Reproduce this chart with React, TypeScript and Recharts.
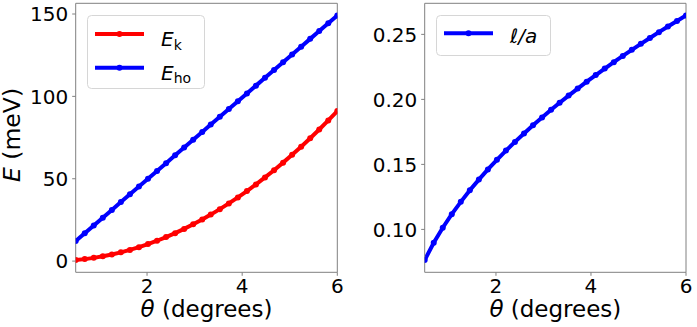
import React from 'react';
import { LineChart, Line, XAxis, YAxis, Legend, ReferenceLine } from 'recharts';

const theta = [0.5, 0.69, 0.88, 1.07, 1.26, 1.45, 1.64, 1.83, 2.02, 2.21, 2.4, 2.59, 2.78, 2.97, 3.16, 3.34, 3.53, 3.72, 3.91, 4.1, 4.29, 4.48, 4.67, 4.86, 5.05, 5.24, 5.43, 5.62, 5.81, 6.0];
const eK = [0.63, 1.2, 1.96, 2.9, 4.02, 5.32, 6.8, 8.47, 10.32, 12.36, 14.57, 16.97, 19.55, 22.32, 25.26, 28.22, 31.53, 35.01, 38.68, 42.53, 46.56, 50.78, 55.18, 59.76, 64.52, 69.47, 74.6, 79.91, 85.4, 91.08];
const eHo = [12.15, 16.88, 21.61, 26.34, 31.07, 35.81, 40.54, 45.27, 50.0, 54.73, 59.46, 64.19, 68.92, 73.65, 78.38, 82.87, 87.6, 92.33, 97.06, 101.79, 106.52, 111.25, 115.98, 120.71, 125.45, 130.18, 134.91, 139.64, 144.37, 149.1];
const ellA = [0.0764, 0.0897, 0.1013, 0.1117, 0.1212, 0.1301, 0.1383, 0.1461, 0.1535, 0.1606, 0.1673, 0.1738, 0.1801, 0.1861, 0.192, 0.1974, 0.2029, 0.2083, 0.2136, 0.2187, 0.2237, 0.2286, 0.2334, 0.2381, 0.2427, 0.2472, 0.2517, 0.256, 0.2603, 0.2645];

const xTicks = [2, 4, 6];
const eTicks = [0, 50, 100, 150];
const lTicks = [0.1, 0.15, 0.2, 0.25];

const leftData = theta.map((t, i) => ({ theta: t, ek: eK[i], eho: eHo[i] }));
const rightData = theta.map((t, i) => ({ theta: t, la: ellA[i] }));

const FONT = 'DejaVu Sans';
const SPINE = '#808080';

function XTick(props: any) {
  const { x, y, payload } = props;
  return (
    <text x={x} y={y + 11.5} textAnchor="middle" fontFamily={FONT} fontSize={20} fill="#000">
      {String(payload.value)}
    </text>
  );
}

function makeYTick(fmt: (v: number) => string) {
  return function YTick(props: any) {
    const { x, y, payload } = props;
    return (
      <text x={x} y={y + 7.2} textAnchor="end" fontFamily={FONT} fontSize={20} fill="#000">
        {fmt(payload.value)}
      </text>
    );
  };
}

const ETick = makeYTick((v) => String(v));
const LTick = makeYTick((v) => v.toFixed(2));

function XLabel(props: any) {
  const vb = props.viewBox || {};
  const cx = vb.x + vb.width / 2;
  return (
    <text x={cx} y={316.5} textAnchor="middle" fontFamily={FONT} fontSize={23} fill="#000">
      <tspan fontStyle="italic">θ</tspan>
      <tspan> (degrees)</tspan>
    </text>
  );
}

function YLabel() {
  const x = 19.5;
  const cy = 135;
  return (
    <text x={x} y={cy} transform={`rotate(-90, ${x}, ${cy})`} textAnchor="middle" fontFamily={FONT} fontSize={23.5} fill="#000">
      <tspan fontStyle="italic">E</tspan>
      <tspan> (meV)</tspan>
    </text>
  );
}

type Item = { color: string; main: string; sub?: string };

function LegendBox({ items, width, height, rowGap, lineY, textY }: { items: Item[]; width: number; height: number; rowGap: number; lineY: number; textY: number }) {
  return (
    <div style={{ width, height, position: 'relative' }}>
      <svg width={width} height={height} style={{ position: 'absolute', left: 0, top: 0, overflow: 'visible' }}>
        <rect x={0.5} y={0.5} width={width - 1} height={height - 1} rx={4} ry={4} fill="rgba(255,255,255,0.8)" stroke="#d6d6d6" strokeWidth={1} />
        {items.map((it, i) => (
          <g key={i}>
            <line x1={8} x2={57} y1={lineY + i * rowGap} y2={lineY + i * rowGap} stroke={it.color} strokeWidth={4} />
            <circle cx={32.5} cy={lineY + i * rowGap} r={3} fill={it.color} />
            <text x={74} y={textY + i * rowGap} fontFamily={FONT} fontSize={20} fill="#000">
              <tspan fontStyle="italic">{it.main}</tspan>
              {it.sub ? (
                <tspan fontSize={14} dy={3.5}>{it.sub}</tspan>
              ) : null}
            </text>
          </g>
        ))}
      </svg>
    </div>
  );
}

export default function App() {
  return (
    <div style={{ position: 'absolute', left: 0, top: 0, width: 697, height: 327, background: '#fff' }}>
      <div style={{ position: 'absolute', left: 0, top: 0 }}>
        <LineChart width={345} height={327} data={leftData} margin={{ top: 3.3, right: 7.7, bottom: 0, left: 0 }}>
          <XAxis
            dataKey="theta"
            type="number"
            domain={[0.5, 6]}
            ticks={xTicks}
            interval={0}
            allowDataOverflow
            height={54.7}
            tick={<XTick />}
            tickSize={3.5}
            tickMargin={6}
            tickLine={{ stroke: SPINE }}
            axisLine={{ stroke: SPINE }}
            label={<XLabel />}
          />
          <YAxis
            type="number"
            domain={[-6.8, 156.5]}
            ticks={eTicks}
            interval={0}
            allowDataOverflow
            width={75.7}
            tick={<ETick />}
            tickSize={3.5}
            tickMargin={4}
            tickLine={{ stroke: SPINE }}
            axisLine={{ stroke: SPINE }}
            label={<YLabel />}
          />
          <ReferenceLine x={6} stroke={SPINE} strokeWidth={1} />
          <ReferenceLine y={156.5} stroke={SPINE} strokeWidth={1} />
          <Line dataKey="ek" stroke="#ff0000" strokeWidth={4} isAnimationActive={false} dot={{ r: 3, fill: '#ff0000', stroke: '#ff0000', strokeWidth: 0 }} activeDot={false} />
          <Line dataKey="eho" stroke="#0000ff" strokeWidth={4} isAnimationActive={false} dot={{ r: 3, fill: '#0000ff', stroke: '#0000ff', strokeWidth: 0 }} activeDot={false} />
          <Legend
            layout="horizontal"
            align="center"
            verticalAlign="middle"
            wrapperStyle={{ left: 87, top: 15, width: 118, height: 74 }}
            content={() => (
              <LegendBox
                width={118}
                height={74}
                rowGap={33.7}
                lineY={19}
                textY={31}
                items={[
                  { color: '#ff0000', main: 'E', sub: 'k' },
                  { color: '#0000ff', main: 'E', sub: 'ho' },
                ]}
              />
            )}
          />
        </LineChart>
      </div>
      <div style={{ position: 'absolute', left: 345, top: 0 }}>
        <LineChart width={352} height={327} data={rightData} margin={{ top: 3.3, right: 11, bottom: 0, left: 0 }}>
          <XAxis
            dataKey="theta"
            type="number"
            domain={[0.5, 6]}
            ticks={xTicks}
            interval={0}
            allowDataOverflow
            height={54.7}
            tick={<XTick />}
            tickSize={3.5}
            tickMargin={6}
            tickLine={{ stroke: SPINE }}
            axisLine={{ stroke: SPINE }}
            label={<XLabel />}
          />
          <YAxis
            type="number"
            domain={[0.067, 0.2739]}
            ticks={lTicks}
            interval={0}
            allowDataOverflow
            width={79.7}
            tick={<LTick />}
            tickSize={3.5}
            tickMargin={4}
            tickLine={{ stroke: SPINE }}
            axisLine={{ stroke: SPINE }}
          />
          <ReferenceLine x={6} stroke={SPINE} strokeWidth={1} />
          <ReferenceLine y={0.2739} stroke={SPINE} strokeWidth={1} />
          <Line dataKey="la" stroke="#0000ff" strokeWidth={4} isAnimationActive={false} dot={{ r: 3, fill: '#0000ff', stroke: '#0000ff', strokeWidth: 0 }} activeDot={false} />
          <Legend
            layout="horizontal"
            align="center"
            verticalAlign="middle"
            wrapperStyle={{ left: 91, top: 15, width: 115, height: 41 }}
            content={() => (
              <LegendBox
                width={115}
                height={41}
                rowGap={0}
                lineY={18.3}
                textY={28}
                items={[{ color: '#0000ff', main: 'ℓ/a' }]}
              />
            )}
          />
        </LineChart>
      </div>
    </div>
  );
}
